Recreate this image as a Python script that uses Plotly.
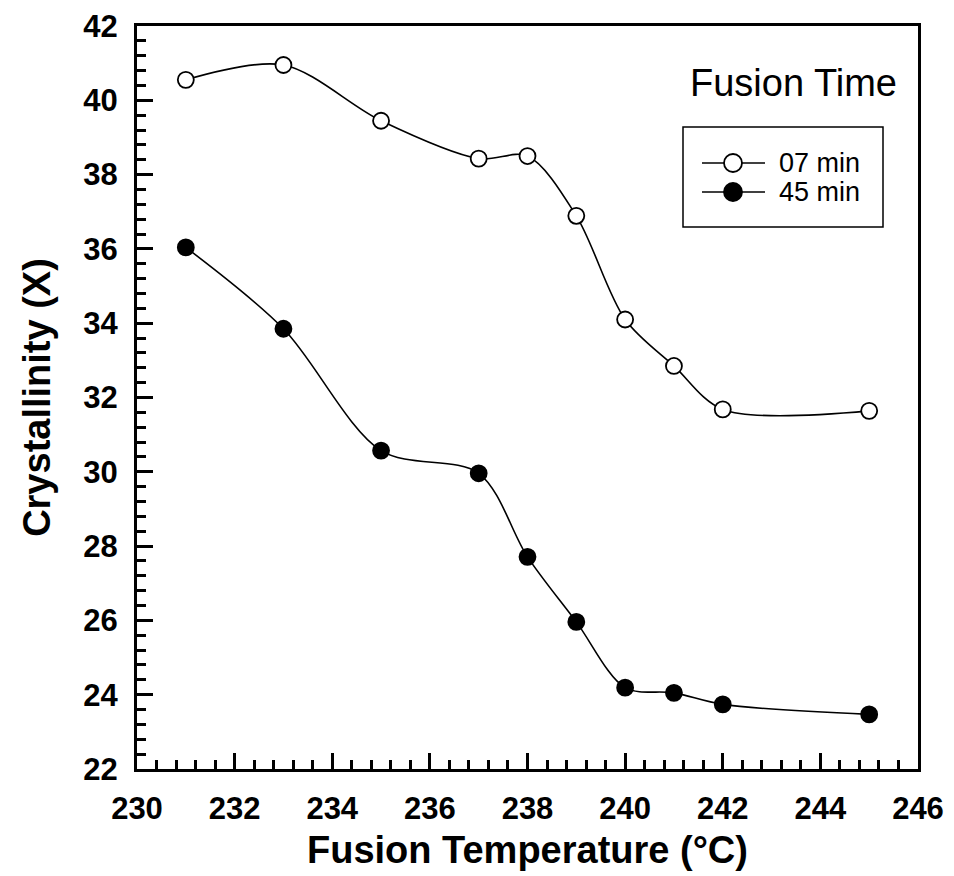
import plotly.graph_objects as go

temps = [231, 233, 235, 237, 238, 239, 240, 241, 242, 245]
cryst_07 = [40.55, 40.95, 39.45, 38.43, 38.50, 36.89, 34.10, 32.85, 31.68, 31.64]
cryst_45 = [36.04, 33.85, 30.57, 29.96, 27.71, 25.96, 24.19, 24.05, 23.74, 23.47]
series_names = ["07 min", "45 min"]
series_fill = ["white", "black"]
x_ticks = [230, 232, 234, 236, 238, 240, 242, 244, 246]
y_ticks = [22, 24, 26, 28, 30, 32, 34, 36, 38, 40, 42]

FONT = "Liberation Sans, Arial, sans-serif"

# plot-area pixel geometry (for paper-coordinate helpers)
L, R, T, B = 137, 918, 26, 769
def px(x):
    return (x - L) / (R - L)
def py(y):
    return (B - y) / (B - T)

fig = go.Figure()
for name, ys, fill in zip(series_names, [cryst_07, cryst_45], series_fill):
    fig.add_trace(go.Scatter(
        x=temps, y=ys, name=name, mode="lines+markers", showlegend=False,
        line=dict(color="black", width=1.6, shape="spline", smoothing=0.9),
        marker=dict(symbol="circle", size=16, color=fill, line=dict(color="black", width=1.8)),
    ))

axis_common = dict(
    showgrid=False, zeroline=False, showline=True, linecolor="black", linewidth=3,
    mirror=True, ticks="inside", ticklen=16, tickwidth=2.5, tickcolor="black",
    tickfont=dict(family=FONT, size=31, color="black", weight="bold"),
    ticklabelstandoff=10,
)

fig.update_xaxes(
    range=[230, 246], tickvals=x_ticks, ticktext=[str(v) for v in x_ticks],
    minor=dict(dtick=0.4, ticks="inside", ticklen=9, tickwidth=2.5, tickcolor="black", tick0=230),
    title=dict(text="Fusion Temperature (°C)", font=dict(family=FONT, size=38, color="black", weight="bold"), standoff=12),
    **axis_common,
)
fig.update_yaxes(
    range=[22, 42], tickvals=y_ticks, ticktext=[str(v) for v in y_ticks],
    minor=dict(dtick=0.4, ticks="inside", ticklen=9, tickwidth=2.5, tickcolor="black", tick0=22),
    title=dict(text="Crystallinity (X)", font=dict(family=FONT, size=38, color="black", weight="bold"), standoff=22),
    **axis_common,
)

fig.add_annotation(
    text="Fusion Time", xref="paper", yref="paper", x=px(793), y=py(83),
    xanchor="center", yanchor="middle", showarrow=False,
    font=dict(family=FONT, size=38, color="black"),
)

# legend box drawn by hand
shapes = [
    dict(type="rect", xref="paper", yref="paper", x0=px(683), x1=px(883), y0=py(227), y1=py(127),
         line=dict(color="black", width=1.5), fillcolor="rgba(0,0,0,0)", layer="above"),
]
r = 9
for yy, name, fill in zip((163, 192), series_names, series_fill):
    shapes.append(dict(type="line", xref="paper", yref="paper", x0=px(702), x1=px(765), y0=py(yy), y1=py(yy),
                       line=dict(color="black", width=1.6), layer="above"))
    shapes.append(dict(type="circle", xref="paper", yref="paper",
                       x0=px(733 - r), x1=px(733 + r), y0=py(yy + r), y1=py(yy - r),
                       line=dict(color="black", width=1.8), fillcolor=fill, layer="above"))
    fig.add_annotation(
        text=name, xref="paper", yref="paper", x=px(777), y=py(yy),
        xanchor="left", yanchor="middle", showarrow=False,
        font=dict(family=FONT, size=27, color="black"),
    )

fig.update_layout(
    width=954, height=876,
    margin=dict(l=L, r=954 - R, t=T, b=876 - B, autoexpand=False),
    paper_bgcolor="white", plot_bgcolor="white",
    showlegend=False,
    shapes=shapes,
)

fig.write_html("out.html")
